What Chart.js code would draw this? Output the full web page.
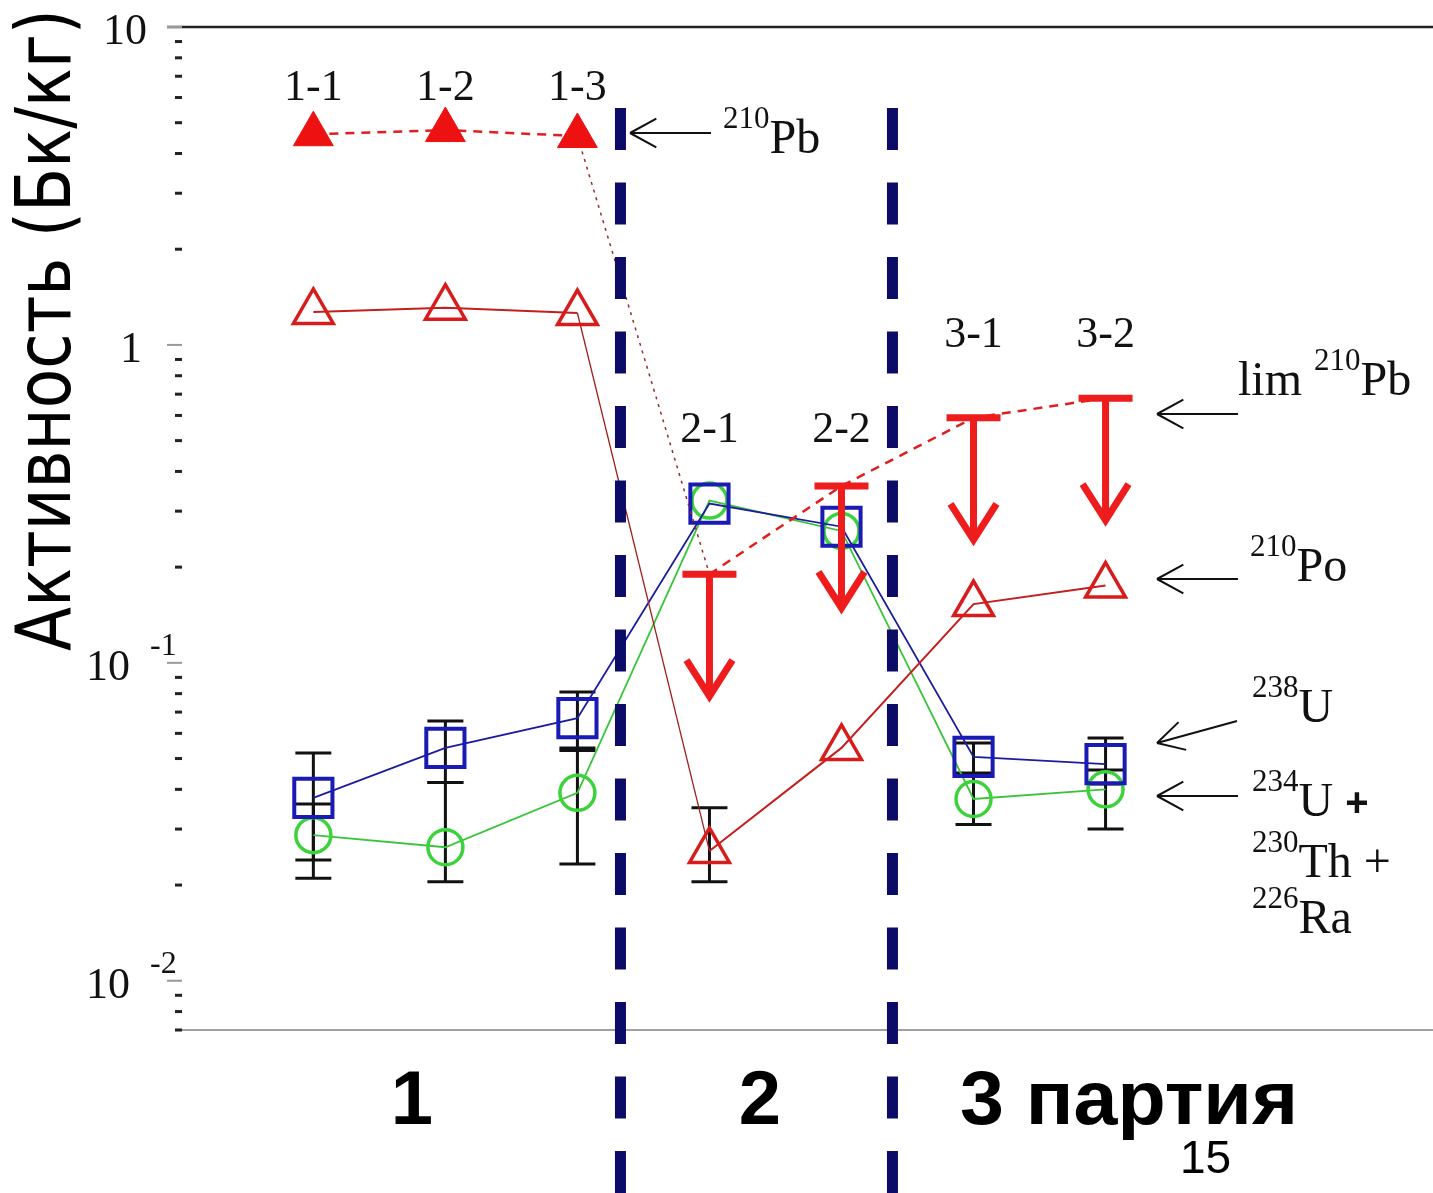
<!DOCTYPE html>
<html>
<head>
<meta charset="utf-8">
<script src="https://cdn.jsdelivr.net/npm/chart.js@4.4.1/dist/chart.umd.min.js"></script>
<style>
  html, body { margin: 0; padding: 0; background: #fff; }
  #wrap { width: 1433px; height: 1193px; }
</style>
</head>
<body>
<div id="wrap"><canvas id="chart" width="1433" height="1193"></canvas></div>
<script>
// --- данные ---
const categories = ['1-1', '1-2', '1-3', '2-1', '2-2', '3-1', '3-2'];
const pb210 = [4.6, 4.74, 4.54, null, null, null, null];        // 210Pb, измерено
const pb210Lim = [null, null, null, 0.19, 0.36, 0.59, 0.68];    // верхний предел 210Pb
const po210 = [1.27, 1.31, 1.26, 0.0256, 0.054, 0.153, 0.175];
const u238 = [0.0376, 0.054, 0.067, 0.317, 0.268, 0.0506, 0.048];
const uThRa = [0.0287, 0.0263, 0.039, 0.324, 0.26, 0.0373, 0.040]; // 234U + 230Th + 226Ra

// погрешности
const u238Lo = [0.024, 0.042, 0.053, null, null, 0.044, 0.0416];
const u238Hi = [0.052, 0.0656, 0.081, null, null, 0.056, 0.058];
const uThRaLo = [0.021, 0.0205, 0.0233, null, null, 0.031, 0.030];
const uThRaHi = [0.036, 0.042, 0.054, null, null, 0.045, 0.046];
const po210Lo = [null, null, null, 0.0205, null, null, null];
const po210Hi = [null, null, null, 0.035, null, null, null];

const yTicks = [10, 1, 0.1, 0.01];
const yMin = 0.007, yMax = 10;
const dividers = [2.326, 4.386];   // границы партий (в единицах оси x)
const groupLabels = ['1', '2', '3 партия'];

// склеиваем измерения и пределы 210Pb в одну линию
const pbLine = pb210.map((v, i) => v !== null ? v : pb210Lim[i]);
const xy = arr => arr.map((v, i) => ({ x: i, y: v }));

function line(ctx, x1, y1, x2, y2) {
    ctx.beginPath(); ctx.moveTo(x1, y1); ctx.lineTo(x2, y2); ctx.stroke();
}

function arrowLeft(ctx, x1, y1, x2, y2) {
    // линия с открытой стрелкой на конце (x2, y2)
    ctx.strokeStyle = '#111'; ctx.lineWidth = 2;
    line(ctx, x1, y1, x2, y2);
    const a = Math.atan2(y1 - y2, x1 - x2);
    const len = 30, spread = 0.5;
    line(ctx, x2, y2, x2 + len * Math.cos(a - spread), y2 + len * Math.sin(a - spread));
    line(ctx, x2, y2, x2 + len * Math.cos(a + spread), y2 + len * Math.sin(a + spread));
}

// подписи изотопов справа
const SERIF = '"Liberation Serif", "Times New Roman", serif';
const notes = [
    { arrow: [711, 133, 630, 133], x: 723, base: 153, parts: [['sup', '210'], ['main', 'Pb']] },
    { arrow: [1238, 414, 1157, 414], x: 1238, base: 395, parts: [['main', 'lim '], ['sup', '210'], ['main', 'Pb']] },
    { arrow: [1238, 579, 1157, 579], x: 1250, base: 581, parts: [['sup', '210'], ['main', 'Po']] },
    { arrow: [1237, 721, 1157, 743], x: 1252, base: 722, parts: [['sup', '238'], ['main', 'U']] },
    { arrow: [1238, 796, 1157, 796], x: 1252, base: 816, parts: [['sup', '234'], ['main', 'U '], ['bold', '+']] },
    { x: 1252, base: 877, parts: [['sup', '230'], ['main', 'Th +']] },
    { x: 1252, base: 933, parts: [['sup', '226'], ['main', 'Ra']] }
];
const catLabelBase = [100, 100, 100, 442, 442, 347, 347];

function drawParts(ctx, x, base, parts) {
    ctx.textAlign = 'left'; ctx.textBaseline = 'alphabetic'; ctx.fillStyle = '#111';
    for (const [kind, t] of parts) {
        let yb = base;
        if (kind === 'sup') { ctx.font = '31px ' + SERIF; yb = base - 25; }
        else if (kind === 'bold') ctx.font = 'bold 40px "Liberation Sans", sans-serif';
        else ctx.font = '48px ' + SERIF;
        ctx.fillText(t, x, yb);
        x += ctx.measureText(t).width;
    }
}

function errorBars(ctx, xs, ys, lo, hi) {
    ctx.strokeStyle = '#111'; ctx.lineWidth = 3;
    lo.forEach((l, i) => {
        if (l === null) return;
        const px = xs.getPixelForValue(i);
        const p1 = ys.getPixelForValue(l), p2 = ys.getPixelForValue(hi[i]);
        line(ctx, px, p1, px, p2);
        line(ctx, px - 18, p1, px + 18, p1);
        line(ctx, px - 18, p2, px + 18, p2);
    });
}

// текст, подогнанный по ширине
function fitText(ctx, text, x, y, width) {
    const w = ctx.measureText(text).width;
    ctx.save();
    ctx.translate(x, y);
    ctx.scale(width / w, 1);
    ctx.fillText(text, 0, 0);
    ctx.restore();
}

const decor = {
    id: 'decor',
    beforeDatasetsDraw(chart) {
        const { ctx, chartArea: a, scales: { x, y } } = chart;
        ctx.save();
        ctx.strokeStyle = '#222'; ctx.lineWidth = 2.5;
        line(ctx, 167, a.top, a.right, a.top);
        ctx.strokeStyle = '#a0a0a0'; ctx.lineWidth = 2;
        line(ctx, 175, a.bottom, a.right, a.bottom);

        // деления логарифмической оси
        for (let d = -3; d <= 1; d++) {
            for (let m = 1; m <= 9; m++) {
                const v = m * Math.pow(10, d);
                if (v < yMin * 0.999 || v > yMax * 1.001) continue;
                const p = y.getPixelForValue(v);
                if (m === 1) { ctx.strokeStyle = '#999'; ctx.lineWidth = 2; line(ctx, 167, p, 182, p); }
                else { ctx.strokeStyle = '#222'; ctx.lineWidth = 3; line(ctx, 175, p, 182, p); }
            }
        }
        // подписи делений
        ctx.fillStyle = '#111'; ctx.textBaseline = 'alphabetic';
        yTicks.forEach(v => {
            const p = y.getPixelForValue(v) + 17;
            const e = Math.round(Math.log10(v));
            ctx.font = '44px ' + SERIF; ctx.textAlign = 'right';
            if (e === 1) ctx.fillText('10', 147, p);
            else if (e === 0) ctx.fillText('1', 142, p);
            else {
                ctx.fillText('10', 130, p);
                ctx.font = '32px ' + SERIF; ctx.textAlign = 'left';
                ctx.fillText(String(e), 150, p - 25);
            }
        });

        errorBars(ctx, x, y, u238Lo, u238Hi);
        errorBars(ctx, x, y, uThRaLo, uThRaHi);
        errorBars(ctx, x, y, po210Lo, po210Hi);
        ctx.restore();
    },
    afterDatasetsDraw(chart) {
        const { ctx, scales: { x, y } } = chart;
        ctx.save();

        // пределы 210Pb: Т-образная планка и стрелка вниз
        ctx.strokeStyle = '#ee1c1c'; ctx.lineWidth = 7; ctx.lineCap = 'butt'; ctx.lineJoin = 'miter';
        pb210Lim.forEach((v, i) => {
            if (v === null) return;
            const px = x.getPixelForValue(i), p = y.getPixelForValue(v);
            line(ctx, px - 27, p, px + 27, p);
            line(ctx, px, p, px, p + 120);
            ctx.beginPath();
            ctx.moveTo(px - 23, p + 86); ctx.lineTo(px, p + 122); ctx.lineTo(px + 23, p + 86);
            ctx.stroke();
        });

        // границы партий
        ctx.strokeStyle = '#0c0c66'; ctx.lineWidth = 11; ctx.setLineDash([42, 32.5]);
        dividers.forEach(d => {
            const px = x.getPixelForValue(d);
            line(ctx, px, 108, px, 1200);
        });
        ctx.setLineDash([]);

        // подписи образцов
        ctx.fillStyle = '#111'; ctx.font = '44px ' + SERIF; ctx.textAlign = 'center';
        categories.forEach((c, i) => ctx.fillText(c, x.getPixelForValue(i), catLabelBase[i]));

        // стрелки и названия изотопов
        notes.forEach(n => {
            if (n.arrow) arrowLeft(ctx, ...n.arrow);
            drawParts(ctx, n.x, n.base, n.parts);
        });

        // заголовок оси y
        ctx.save();
        ctx.translate(70, 330); ctx.rotate(-Math.PI / 2);
        ctx.font = '76px "DejaVu Sans", Verdana, sans-serif';
        ctx.textAlign = 'left'; ctx.fillStyle = '#000';
        fitText(ctx, 'Активность (Бк/кг)', -321, 0, 642);
        ctx.restore();

        // номера партий
        ctx.fillStyle = '#000'; ctx.font = 'bold 76px "Liberation Sans", Arial, sans-serif';
        ctx.textAlign = 'center';
        ctx.fillText(groupLabels[0], 412, 1124);
        ctx.fillText(groupLabels[1], 760, 1124);
        ctx.textAlign = 'left';
        fitText(ctx, groupLabels[2], 960, 1124, 338);
        ctx.font = '46px "Liberation Sans", Arial, sans-serif';
        ctx.fillText('15', 1180, 1173);
        ctx.restore();
    }
};

new Chart(document.getElementById('chart'), {
    type: 'line',
    data: {
        datasets: [
            {
                label: '210Pb',
                data: xy(pbLine),
                borderColor: '#e01e1e',
                borderWidth: 2.5,
                borderDash: [9, 7],
                segment: {
                    borderColor: c => c.p0DataIndex === 2 ? '#9a2a2a' : '#e01e1e',
                    borderWidth: c => c.p0DataIndex === 2 ? 1.5 : 2.5,
                    borderDash: c => c.p0DataIndex === 2 ? [3, 5] : [9, 7]
                },
                pointStyle: 'triangle',
                pointRadius: c => pb210[c.dataIndex] !== null ? 23 : 0,
                pointBackgroundColor: '#ee1111',
                pointBorderColor: '#ee1111',
                pointBorderWidth: 1,
                clip: false
            },
            {
                label: '210Po',
                data: xy(po210),
                borderColor: '#c41e1e',
                borderWidth: 2,
                segment: {
                    borderColor: c => c.p0DataIndex === 2 ? '#a02020' : '#c41e1e',
                    borderWidth: c => c.p0DataIndex === 2 ? 1.3 : 2
                },
                pointStyle: 'triangle',
                pointRadius: 23,
                pointBackgroundColor: 'rgba(0,0,0,0)',
                pointBorderColor: '#d81c1c',
                pointBorderWidth: 3.5,
                clip: false
            },
            {
                label: '238U',
                data: xy(u238),
                borderColor: '#1c1ca0',
                borderWidth: 1.8,
                pointStyle: 'rect',
                pointRadius: 27,
                pointBackgroundColor: 'rgba(0,0,0,0)',
                pointBorderColor: '#1a1ab4',
                pointBorderWidth: 4,
                clip: false
            },
            {
                label: '234U + 230Th + 226Ra',
                data: xy(uThRa),
                borderColor: '#3ac43a',
                borderWidth: 1.8,
                pointStyle: 'circle',
                pointRadius: 17.5,
                pointBackgroundColor: 'rgba(0,0,0,0)',
                pointBorderColor: '#3bd23b',
                pointBorderWidth: 3.5,
                clip: false
            }
        ]
    },
    options: {
        responsive: false,
        animation: false,
        devicePixelRatio: 1,
        layout: { autoPadding: false, padding: { left: 180, right: 0, top: 27, bottom: 163 } },
        plugins: { legend: { display: false }, tooltip: { enabled: false } },
        elements: { line: { tension: 0 } },
        scales: {
            x: { type: 'linear', display: false, min: -1.01, max: 8.48 },
            y: { type: 'logarithmic', display: false, min: yMin, max: yMax }
        }
    },
    plugins: [decor]
});
</script>
</body>
</html>
